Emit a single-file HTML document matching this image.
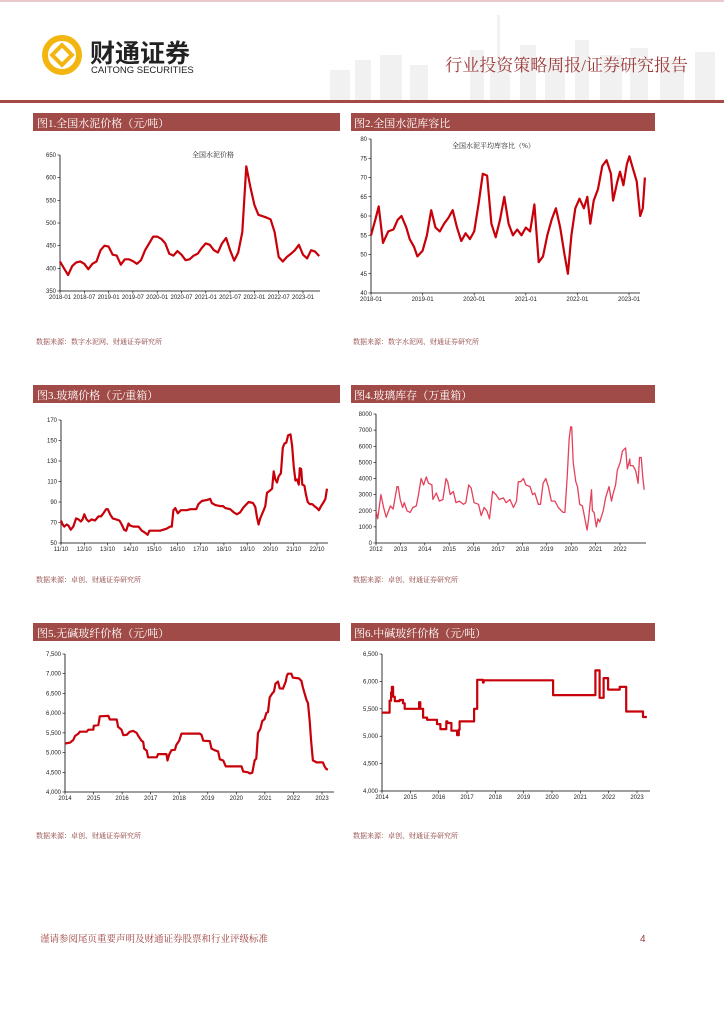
<!DOCTYPE html>
<html><head><meta charset="utf-8">
<style>
html,body{margin:0;padding:0;background:#fff;}
svg{display:block;font-family:"Liberation Sans","Noto Serif CJK SC","Noto Sans CJK SC",sans-serif;}
.cn{font-family:"Liberation Serif","Noto Serif CJK SC",serif;}
.tk{font-size:6px;fill:#222;}
</style></head>
<body>
<svg id="page" width="724" height="1024" viewBox="0 0 724 1024" xmlns="http://www.w3.org/2000/svg">
  <rect x="0" y="0" width="724" height="1024" fill="#fff"/>
  <rect x="0" y="0" width="724" height="2" fill="#e9c9c9"/>
  <g fill="#f1f1f1">
    <rect x="330" y="70" width="20" height="30"/><rect x="355" y="60" width="16" height="40"/>
    <rect x="380" y="55" width="22" height="45"/><rect x="410" y="65" width="18" height="35"/>
    <rect x="470" y="50" width="14" height="50"/><rect x="490" y="62" width="20" height="38"/>
    <rect x="497" y="15" width="3" height="50"/><rect x="520" y="45" width="16" height="55"/>
    <rect x="545" y="58" width="20" height="42"/><rect x="575" y="40" width="14" height="60"/>
    <rect x="600" y="55" width="22" height="45"/><rect x="630" y="48" width="18" height="52"/>
    <rect x="660" y="60" width="24" height="40"/><rect x="695" y="52" width="20" height="48"/>
  </g>
  <g>
    <circle cx="62" cy="55" r="17" fill="none" stroke="#f3b50f" stroke-width="6"/>
    <rect x="55" y="48" width="14" height="14" transform="rotate(45 62 55)" fill="none" stroke="#f3b50f" stroke-width="4"/>
    <text x="90" y="62" font-size="25" font-weight="bold" fill="#222" class="cn" style="font-family:'Noto Sans CJK SC',sans-serif">财通证券</text>
    <text x="91" y="73" font-size="9.5" fill="#222">CAITONG SECURITIES</text>
  </g>
  <text x="688" y="71" font-size="17" fill="#9c3a3a" text-anchor="end" class="cn">行业投资策略周报/证券研究报告</text>
  <rect x="0" y="100" width="724" height="3" fill="#a34a45"/>

  <g font-size="11" fill="#fff" class="cn">
    <rect x="33" y="113" width="307" height="18" fill="#a04b47"/><text x="37" y="127" fill="#fff">图1.全国水泥价格（元/吨）</text>
    <rect x="351" y="113" width="304" height="18" fill="#a04b47"/><text x="354" y="127" fill="#fff">图2.全国水泥库容比</text>
    <rect x="33" y="385" width="307" height="18" fill="#a04b47"/><text x="37" y="399" fill="#fff">图3.玻璃价格（元/重箱）</text>
    <rect x="351" y="385" width="304" height="18" fill="#a04b47"/><text x="354" y="399" fill="#fff">图4.玻璃库存（万重箱）</text>
    <rect x="33" y="623" width="307" height="18" fill="#a04b47"/><text x="37" y="637" fill="#fff">图5.无碱玻纤价格（元/吨）</text>
    <rect x="351" y="623" width="304" height="18" fill="#a04b47"/><text x="354" y="637" fill="#fff">图6.中碱玻纤价格（元/吨）</text>
  </g>
  <g font-size="7" fill="#8a3b3b" class="cn">
    <text x="36" y="344">数据来源：数字水泥网、财通证券研究所</text>
    <text x="353" y="344">数据来源：数字水泥网、财通证券研究所</text>
    <text x="36" y="582">数据来源：卓创、财通证券研究所</text>
    <text x="353" y="582">数据来源：卓创、财通证券研究所</text>
    <text x="36" y="838">数据来源：卓创、财通证券研究所</text>
    <text x="353" y="838">数据来源：卓创、财通证券研究所</text>
  </g>
  <text x="40" y="942" font-size="9.5" fill="#9c3a3a" class="cn">谨请参阅尾页重要声明及财通证券股票和行业评级标准</text>
  <text x="640" y="942" font-size="10" fill="#9c3a3a">4</text>

  <text x="192" y="157" font-size="7" fill="#222" class="cn">全国水泥价格</text>
  <text x="452" y="148" font-size="7" fill="#222" class="cn">全国水泥平均库容比（%）</text>
  <g id="charts"></g>
</svg>
<script>
// ---- Chart 1: cement price (monthly from 2018-01)
const c1Values = [415,400,385,405,413,415,410,398,410,415,440,450,
 448,430,428,408,420,420,416,410,418,440,455,470,
 470,465,455,432,428,438,430,418,420,428,432,445,
 455,452,440,435,455,467,440,417,435,480,625,580,
 540,518,515,512,508,480,425,415,425,432,440,452,
 430,422,440,437,427];
const c1YTicks = [350,400,450,500,550,600,650];
const c1XLabels = ['2018-01','2018-07','2019-01','2019-07','2020-01','2020-07','2021-01','2021-07','2022-01','2022-07','2023-01'];
// ---- Chart 2: cement storage ratio (month index from 2018-01)
const c2Months = [0,1,1.8,2.8,4,5.2,6.2,7.1,8.2,9,10,10.8,12,13,14,15,16,17,18,19,20,21,22,23,24,25,26,27,28,29,30,31,32,33,34,35,36,37,38,39,40,41,42,43,44,45,45.8,46.6,47.5,48.5,49.5,50.3,51,51.8,52.8,53.8,54.8,55.8,56.3,57.3,57.9,58.7,59.5,60.1,61,61.8,62.6,63.2,63.7];
const c2Values = [55,59,62.5,53,56,56.5,59,60,57,54,52,49.5,51,55,61.5,57,56,58,59.5,61.5,57,53.5,55.5,54,56,63,71,70.5,58,54.5,59,65,58,55,56.5,55,57,56,63,48,49.5,55,59,62,57,50,45,55,62,64.5,62,65,58,64,67,73,74.5,71,64,69,71.5,68,73.5,75.5,72,69,60,62,70];
const c2YTicks = [40,45,50,55,60,65,70,75,80];
const c2XLabels = ['2018-01','2019-01','2020-01','2021-01','2022-01','2023-01'];
// ---- Chart 3: glass price (years since 2011-10)
const c3Years = [0,.07,.14,.24,.32,.42,.53,.65,.75,.85,.93,1,1.1,1.19,1.32,1.46,1.61,1.72,1.82,1.94,2.01,2.11,2.22,2.37,2.51,2.61,2.71,2.8,2.9,2.97,3.11,3.33,3.47,3.62,3.72,3.8,3.95,4.09,4.26,4.4,4.55,4.69,4.76,4.83,4.91,5.02,5.15,5.41,5.55,5.81,5.91,6.05,6.27,6.41,6.48,6.63,6.84,6.96,7.06,7.27,7.42,7.56,7.7,7.85,8.06,8.25,8.35,8.42,8.49,8.56,8.71,8.78,8.85,8.97,9.07,9.14,9.21,9.28,9.35,9.45,9.53,9.6,9.68,9.76,9.86,9.93,10,10.07,10.14,10.22,10.26,10.32,10.37,10.46,10.52,10.6,10.69,10.79,10.89,11,11.08,11.15,11.29,11.36,11.41,11.43];
const c3Values = [72,68,66,68,67,63,66,74,73,71,73,78,73,71,73,72,76,76,79,83,83,78,74,73,72,68,63,62,69,67,66,66,62,60,58,62,62,62,62,63,64,66,66,82,84,79,82,82,83,83,88,91,92,93,89,87,86,86,84,83,80,78,80,85,90,89,85,75,68,74,82,86,99,101,103,120,112,109,115,118,143,147,148,155,156,145,125,111,112,107,123,122,107,106,98,90,88,88,86,84,82,85,90,93,100,103];
const c3YTicks = [50,70,90,110,130,150,170];
const c3XLabels = ['11/10','12/10','13/10','14/10','15/10','16/10','17/10','18/10','19/10','20/10','21/10','22/10'];
// ---- Chart 4: glass inventory (years since 2012)
const c4Years = [0,.07,.2,.31,.42,.59,.7,.86,.91,.99,1.09,1.16,1.27,1.4,1.51,1.65,1.74,1.85,1.95,2.06,2.15,2.29,2.33,2.47,2.6,2.74,2.87,2.94,3.04,3.17,3.28,3.42,3.58,3.68,3.8,3.9,4.02,4.2,4.31,4.43,4.54,4.65,4.78,4.92,5.05,5.22,5.33,5.49,5.63,5.76,5.83,5.93,6.04,6.14,6.31,6.42,6.51,6.65,6.74,6.85,6.96,7.06,7.19,7.33,7.47,7.67,7.74,7.83,7.92,7.98,8.02,8.08,8.19,8.26,8.35,8.46,8.56,8.65,8.72,8.83,8.87,8.94,9.03,9.1,9.17,9.31,9.41,9.55,9.65,9.71,9.82,9.89,10.01,10.1,10.23,10.3,10.4,10.42,10.53,10.64,10.74,10.8,10.87,10.94,10.99];
const c4Values = [2000,1500,3000,2200,1600,2300,2100,3500,3500,2700,2200,2500,2000,1900,2200,2300,3000,4000,3600,4100,3700,3600,2700,3100,2600,2700,4000,3800,3000,3200,2500,2600,2400,2500,3600,3400,2500,2400,1700,2200,2000,1500,3200,3000,2700,2800,2500,2700,2200,2600,3800,3800,4000,3600,3500,3000,3100,2400,2400,3700,4000,3500,2600,2600,2200,1900,1900,4000,6500,7200,7200,5000,3800,3500,2400,2300,1500,800,1600,3300,2000,1900,1000,1500,1300,2000,2800,3500,2600,3000,3600,4500,5000,5700,5900,4600,5200,4800,4800,4500,3700,5300,5300,4000,3300];
const c4YTicks = [0,1000,2000,3000,4000,5000,6000,7000,8000];
const c4XLabels = ['2012','2013','2014','2015','2016','2017','2018','2019','2020','2021','2022'];
// ---- Chart 5: alkali-free fiberglass (years since 2014)
const c5Years = [0,.17,.29,.35,.47,.52,.76,.82,.99,1.01,1.17,1.22,1.52,1.57,1.81,1.86,1.98,2.04,2.16,2.27,2.39,2.51,2.56,2.68,2.74,2.77,2.86,2.91,3.21,3.26,3.55,3.59,3.65,3.73,3.85,3.9,4,4.08,4.72,4.78,4.84,5.07,5.13,5.24,5.36,5.42,5.54,5.63,6.18,6.24,6.41,6.47,6.56,6.64,6.7,6.76,6.84,6.91,6.99,7.05,7.11,7.17,7.26,7.32,7.37,7.46,7.52,7.63,7.73,7.77,7.81,7.93,7.98,8.19,8.28,8.33,8.45,8.51,8.57,8.62,8.68,8.74,8.8,9.03,9.09,9.15,9.21];
const c5Values = [5230,5250,5320,5420,5480,5530,5530,5580,5580,5680,5700,5920,5930,5840,5840,5650,5580,5440,5450,5530,5550,5500,5430,5300,5270,5100,5050,4880,4880,4960,4960,4800,4950,5060,5070,5200,5300,5480,5480,5450,5300,5290,5100,5060,5030,4830,4800,4650,4650,4520,4500,4470,4490,4800,4850,5500,5600,5800,5850,6000,6030,6400,6500,6550,6750,6800,6630,6620,6800,6950,7000,7000,6900,6880,6820,6650,6350,6250,5800,5300,4800,4780,4750,4750,4650,4580,4570];
const c5YTicks = [4000,4500,5000,5500,6000,6500,7000,7500];
const c5XLabels = ['2014','2015','2016','2017','2018','2019','2020','2021','2022','2023'];
// ---- Chart 6: medium-alkali fiberglass (step starts, years since 2014)
const c6Years = [0,.27,.32,.35,.39,.45,.62,.74,.8,1.31,1.35,1.45,1.59,1.94,2.06,2.27,2.31,2.45,2.65,2.71,2.74,3.25,3.36,3.56,3.59,6.04,7.53,7.68,7.82,7.98,8.39,8.62,9.21,9.35];
const c6Values = [5430,5650,5800,5900,5720,5640,5660,5600,5500,5620,5500,5340,5300,5220,5130,5270,5240,5100,5020,5120,5270,5500,6030,5980,6020,5750,6200,5700,6060,5850,5900,5450,5350,5350];
const c6YTicks = [4000,4500,5000,5500,6000,6500];
const c6XLabels = ['2014','2015','2016','2017','2018','2019','2020','2021','2022','2023'];

const NS='http://www.w3.org/2000/svg';
const root=document.getElementById('charts');
function mk(tag,attrs,parent){const e=document.createElementNS(NS,tag);for(const k in attrs)e.setAttribute(k,attrs[k]);(parent||root).appendChild(e);return e;}
function lin(d0,d1,r0,r1){return v=>r0+(v-d0)*(r1-r0)/(d1-d0);}
function fmt(v,comma){return comma?v.toLocaleString('en-US'):String(v);}

function chart(o){
  const g=mk('g',{});
  
  
  const x=lin(o.xd0,o.xd1,o.x0,o.x1), y=lin(o.yd0,o.yd1,o.y0,o.y1);
  // y axis
  const ya=mk('line',{x1:o.x0,y1:o.y1,x2:o.x0,y2:o.y0,stroke:'#000','stroke-width':0.8},g);
  
  
  o.yTicks.forEach(t=>{
    mk('line',{x1:o.x0-2.5,x2:o.x0,y1:y(t),y2:y(t),stroke:'#000','stroke-width':0.6},g);
    const tx=mk('text',{x:o.x0-4,y:y(t)+2,'text-anchor':'end',class:'tk','font-size':o.fs||6},g);
    tx.textContent=fmt(t,o.comma);
    
    
  });
  const xa=mk('line',{x1:o.x0,y1:o.y0,x2:o.axEnd,y2:o.y0,stroke:'#000','stroke-width':0.8},g);
  
  
  o.xLabels.forEach((l,i)=>{
    const xv=x(o.xl0+i*o.xlStep);
    mk('line',{x1:xv,x2:xv,y1:o.y0,y2:o.y0+2.5,stroke:'#000','stroke-width':0.6},g);
    const tx=mk('text',{x:xv,y:o.y0+8,'text-anchor':'middle',class:'tk','font-size':o.fs||6},g);
    tx.textContent=l;
    
    
  });
  let d='';
  o.xs.forEach((xv,i)=>{
    if(o.step&&i>0) d+='L'+x(xv).toFixed(1)+','+y(o.ys[i-1]).toFixed(1);
    d+=(i?'L':'M')+x(xv).toFixed(1)+','+y(o.ys[i]).toFixed(1);
  });
  const p=mk('path',{d:d,fill:'none',stroke:o.color,'stroke-width':o.sw,'stroke-linejoin':'round'},g);
  
  
}

chart({name:'chart-cement-price',xs:c1Values.map((v,i)=>i),ys:c1Values,xd0:0,xd1:60,x0:60,x1:303,yd0:350,yd1:650,y0:291,y1:155,
  yTicks:c1YTicks,xLabels:c1XLabels,xl0:0,xlStep:6,axEnd:320,color:'#c8000a',sw:2.2,fs:5.5});
chart({name:'chart-cement-storage',xs:c2Months,ys:c2Values,xd0:0,xd1:60,x0:371,x1:629,yd0:40,yd1:80,y0:293,y1:139,
  yTicks:c2YTicks,xLabels:c2XLabels,xl0:0,xlStep:12,axEnd:640,color:'#c8000a',sw:2.2});
chart({name:'chart-glass-price',xs:c3Years,ys:c3Values,xd0:0,xd1:11,x0:61,x1:317,yd0:50,yd1:170,y0:543,y1:420,
  yTicks:c3YTicks,xLabels:c3XLabels,xl0:0,xlStep:1,axEnd:328,color:'#c8000a',sw:2.2});
chart({name:'chart-glass-inventory',xs:c4Years,ys:c4Values,xd0:0,xd1:10,x0:376,x1:620,yd0:0,yd1:8000,y0:543,y1:414,
  yTicks:c4YTicks,xLabels:c4XLabels,xl0:0,xlStep:1,axEnd:646,color:'#e4405a',sw:1.3,fs:4.5});
chart({name:'chart-alkali-free-fiberglass',xs:c5Years,ys:c5Values,xd0:0,xd1:9,x0:65,x1:322,yd0:4000,yd1:7500,y0:792,y1:654,
  yTicks:c5YTicks,xLabels:c5XLabels,xl0:0,xlStep:1,axEnd:334,color:'#c8000a',sw:2.2,comma:true});
chart({name:'chart-medium-alkali-fiberglass',xs:c6Years,ys:c6Values,xd0:0,xd1:9,x0:382,x1:637,yd0:4000,yd1:6500,y0:791,y1:654,
  yTicks:c6YTicks,xLabels:c6XLabels,xl0:0,xlStep:1,axEnd:650,color:'#c8000a',sw:2.2,comma:true,step:true});
</script>
</body></html>
